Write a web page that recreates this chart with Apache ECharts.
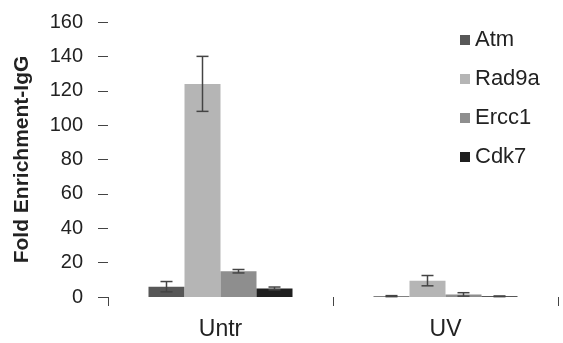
<!DOCTYPE html>
<html>
<head>
<meta charset="utf-8">
<script src="https://cdn.jsdelivr.net/npm/echarts@6/dist/echarts.min.js"></script>
<style>
  html, body { margin: 0; padding: 0; background: #fff; }
  #chart { width: 563px; height: 343px; }
</style>
</head>
<body>
<div id="chart"></div>
<script>
// Conditions on the x axis
const categories = ['Untr', 'UV'];
// Genes plotted as grouped bars
const seriesNames = ['Atm', 'Rad9a', 'Ercc1', 'Cdk7'];
// Mean fold enrichment over IgG, per gene, per condition
const atmValues = [6, 0.5];
const rad9aValues = [124, 9.5];
const ercc1Values = [15, 1.5];
const cdk7Values = [5, 0.4];
// Standard deviation for each bar
const atmErrors = [3, 0.3];
const rad9aErrors = [16, 3];
const ercc1Errors = [1, 1];
const cdk7Errors = [0.8, 0.2];
// Y axis ticks
const yTicks = [0, 20, 40, 60, 80, 100, 120, 140, 160];

const values = [atmValues, rad9aValues, ercc1Values, cdk7Values];
const errors = [atmErrors, rad9aErrors, ercc1Errors, cdk7Errors];
const colors = ['#575757', '#b5b5b5', '#8e8e8e', '#1f1f1f'];
const categoryGap = 0.36;
const fontFamily = 'Liberation Sans, Arial, sans-serif';

const chart = echarts.init(document.getElementById('chart'), null, { renderer: 'canvas' });

const barSeries = seriesNames.map((name, i) => ({
  name: name,
  type: 'bar',
  data: values[i],
  barGap: '0%',
  barCategoryGap: (categoryGap * 100) + '%',
  itemStyle: { color: colors[i] },
  z: 2
}));

// Error bars drawn on top of each bar, offset to sit on its own bar
const errorSeries = seriesNames.map((name, i) => ({
  name: name + ' error',
  type: 'custom',
  z: 5,
  data: values[i].map((v, j) => [j, v - errors[i][j], v + errors[i][j]]),
  renderItem: function (params, api) {
    const xi = api.value(0);
    const lo = api.coord([xi, api.value(1)]);
    const hi = api.coord([xi, api.value(2)]);
    const band = api.size([1, 0])[0];
    const bw = band * (1 - categoryGap) / seriesNames.length;
    const x = lo[0] + (i - (seriesNames.length - 1) / 2) * bw;
    const cap = 6;
    const style = { stroke: '#444', lineWidth: 1.5 };
    return {
      type: 'group',
      children: [
        { type: 'line', shape: { x1: x, y1: lo[1], x2: x, y2: hi[1] }, style: style },
        { type: 'line', shape: { x1: x - cap, y1: hi[1], x2: x + cap, y2: hi[1] }, style: style },
        { type: 'line', shape: { x1: x - cap, y1: lo[1], x2: x + cap, y2: lo[1] }, style: style }
      ]
    };
  }
}));

chart.setOption({
  animation: false,
  textStyle: { fontFamily: fontFamily },
  grid: { left: 108, right: 5, top: 22, bottom: 46, outerBoundsMode: 'none', containLabel: false },
  legend: {
    data: seriesNames,
    orient: 'vertical',
    left: 455,
    top: 24,
    itemWidth: 10,
    itemHeight: 10,
    itemGap: 17,
    icon: 'rect',
    textStyle: { fontSize: 22, color: '#222', fontFamily: fontFamily }
  },
  xAxis: {
    type: 'category',
    data: categories,
    axisLine: { show: false },
    axisTick: { show: true, length: 9, lineStyle: { color: '#444' } },
    axisLabel: { fontSize: 23, color: '#222', margin: 21 }
  },
  yAxis: {
    type: 'value',
    min: yTicks[0],
    max: yTicks[yTicks.length - 1],
    interval: yTicks[1] - yTicks[0],
    name: 'Fold Enrichment-IgG',
    nameLocation: 'middle',
    nameGap: 75,
    nameTextStyle: { fontSize: 21, fontWeight: 'bold', color: '#222' },
    axisLine: { show: false },
    axisTick: { show: true, length: 10, lineStyle: { color: '#444' } },
    splitLine: { show: false },
    axisLabel: { fontSize: 20, color: '#222', margin: 25 }
  },
  series: barSeries.concat(errorSeries)
});
</script>
</body>
</html>
